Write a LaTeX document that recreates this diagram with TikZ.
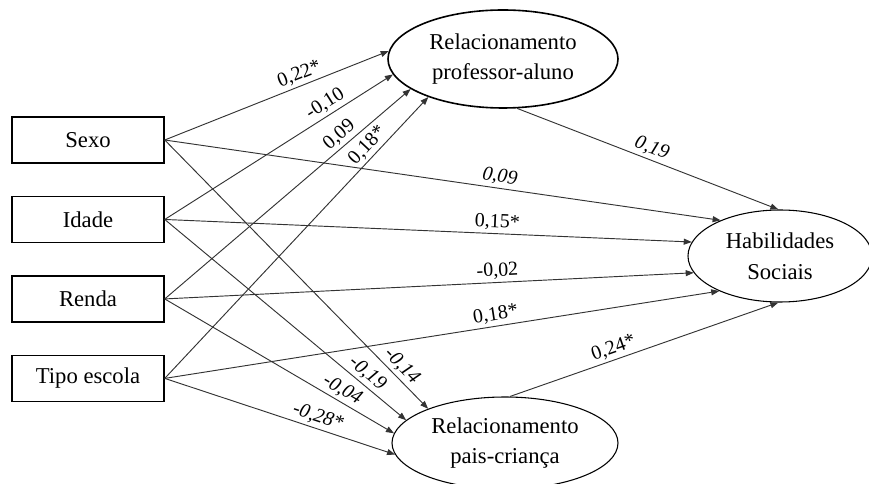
\documentclass[tikz,border=0pt]{standalone}
\usepackage{fontspec}
\setmainfont{Liberation Serif}
\usepackage{tikz}
\usetikzlibrary{
arrows.meta,
positioning,
shapes.geometric
}

\begin{document}
\begin{tikzpicture}[
x=0.75pt,y=-0.75pt,
node distance=24pt,
box/.style={
draw,
line width=1.1pt,
minimum width=114pt,
minimum height=34.5pt,
font=\fontsize{17}{23}\selectfont
},
latent/.style={
draw,
ellipse,
inner sep=0pt,
line width=0.8pt,
align=center,
font=\fontsize{17}{23}\selectfont
},
arrow/.style={-{Triangle[length=6pt,width=4.5pt]},black!80,line width=0.7pt},
lbl/.style={sloped,above,inner sep=2pt,text=black,font=\fontsize{15}{17}\selectfont},
ital/.style={font=\fontsize{15}{17}\selectfont\itshape}
]

\useasboundingbox (0,0) rectangle (869,484);

\node[box] (sexo) at (88,140) {Sexo};

\node[box,below=of sexo] (idade) {Idade};

\node[box,below=of idade] (renda) {Renda};

\node[box,below=of renda] (tipo) {Tipo escola};

\node[latent,line width=1.2pt,minimum width=172.5pt,minimum height=73.5pt] (prof) at (503,59) {
Relacionamento\\
professor-aluno
};

\node[latent,minimum width=138pt,minimum height=69pt] (hab) at (780,256) {
Habilidades\\
Sociais
};

\node[latent,minimum width=169.5pt,minimum height=69pt] (pais) at (505,443) {
Relacionamento\\
pais-criança
};

% para professor-aluno
\draw[arrow] (sexo.east) -- node[lbl,pos=0.62] {0,22*} (prof.176);
\draw[arrow] (idade.east) -- node[lbl,pos=0.73] {-0,10} (prof.188);
\draw[arrow] (renda.east) -- node[lbl,pos=0.74] {0,09} (prof.198);
\draw[arrow] (tipo.east) -- node[lbl,pos=0.8] {0,18*} (prof.207);

% para habilidades sociais
\draw[arrow] (sexo.east) -- node[lbl,ital,pos=0.6] {0,09} (hab.149);
\draw[arrow] (idade.east) -- node[lbl,pos=0.63] {0,15*} (hab.171);
\draw[arrow] (renda.east) -- node[lbl,pos=0.63] {-0,02} (hab.191);
\draw[arrow] (tipo.east) -- node[lbl,pos=0.6] {0,18*} (hab.210);
\draw[arrow] (prof.286) -- node[lbl,ital,pos=0.5] {0,19} (hab.92);
\draw[arrow] (pais.84) -- node[lbl,pos=0.4] {0,24*} (hab.268);

% para pais-crianca
\draw[arrow] (sexo.east) -- node[lbl,ital,pos=0.87] {-0,14} (pais.156);
\draw[arrow] (idade.east) -- node[lbl,ital,pos=0.81] {-0,19} (pais.167);
\draw[arrow] (renda.east) -- node[lbl,ital,pos=0.75] {-0,04} (pais.175);
\draw[arrow] (tipo.east) -- node[lbl,ital,pos=0.65] {-0,28*} (pais.186);

\end{tikzpicture}
\end{document}
